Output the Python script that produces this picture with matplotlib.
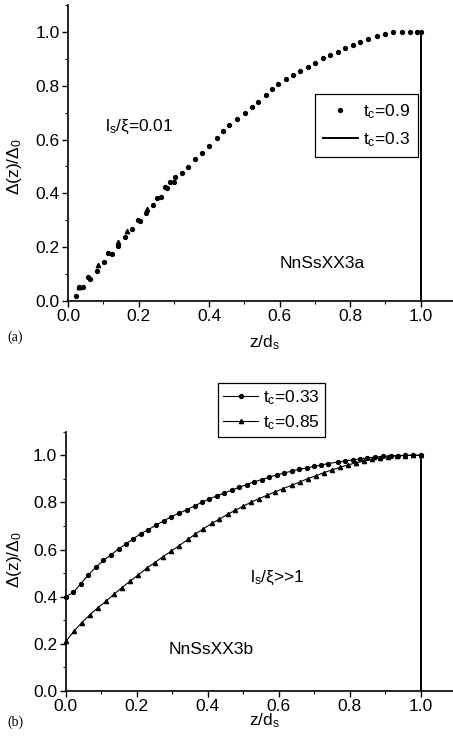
import matplotlib
matplotlib.use("Agg")
import matplotlib.pyplot as plt
from matplotlib.ticker import MultipleLocator, FormatStrFormatter

plt.rcParams['font.family'] = ['Liberation Sans', 'DejaVu Sans']
plt.rcParams['mathtext.fontset'] = 'custom'
plt.rcParams['mathtext.rm'] = 'Liberation Sans'
plt.rcParams['mathtext.it'] = 'Liberation Sans'
plt.rcParams['mathtext.bf'] = 'Liberation Sans:bold'

# ---- panel (a) data ----
a_dot_x = [0.022, 0.031, 0.042, 0.058, 0.062, 0.081, 0.103, 0.114, 0.124, 0.141, 0.162, 0.182,
           0.198, 0.203, 0.221, 0.242, 0.251, 0.263, 0.275, 0.281, 0.289, 0.300, 0.303, 0.322,
           0.341, 0.360, 0.379, 0.401, 0.422, 0.440, 0.457, 0.478, 0.502, 0.521, 0.540, 0.561,
           0.578, 0.596, 0.618, 0.639, 0.658, 0.681, 0.700, 0.724, 0.743, 0.766, 0.785, 0.809,
           0.828, 0.851, 0.875, 0.899, 0.922, 0.946, 0.970, 0.989, 1.0]
a_dot_y = [0.020, 0.051, 0.051, 0.090, 0.083, 0.113, 0.144, 0.177, 0.176, 0.206, 0.237, 0.268,
           0.301, 0.297, 0.328, 0.357, 0.382, 0.386, 0.423, 0.419, 0.444, 0.444, 0.460, 0.475,
           0.499, 0.528, 0.551, 0.577, 0.605, 0.633, 0.654, 0.675, 0.698, 0.722, 0.741, 0.766,
           0.788, 0.807, 0.824, 0.840, 0.856, 0.871, 0.886, 0.902, 0.914, 0.927, 0.939, 0.952,
           0.962, 0.974, 0.983, 0.991, 0.999, 1.0, 1.0, 1.0, 1.0]
a_tri_x = [0.031, 0.085, 0.141, 0.167, 0.224]
a_tri_y = [0.051, 0.135, 0.218, 0.261, 0.343]
a_line_x = [1.0, 1.0]
a_line_y = [1.0, 0.0]

# ---- panel (b) data ----
b_c_x = [0, 0.021, 0.043, 0.064, 0.085, 0.106, 0.128, 0.149, 0.170, 0.190, 0.212, 0.233, 0.254,
         0.276, 0.297, 0.319, 0.341, 0.363, 0.384, 0.405, 0.426, 0.447, 0.468, 0.489, 0.510,
         0.530, 0.552, 0.574, 0.594, 0.616, 0.637, 0.658, 0.679, 0.70, 0.72, 0.74, 0.766, 0.787,
         0.81, 0.83, 0.85, 0.87, 0.894, 0.915, 0.936, 0.957, 0.979, 1.0]
b_c_y = [0.40, 0.418, 0.456, 0.493, 0.525, 0.554, 0.578, 0.603, 0.624, 0.645, 0.668, 0.685,
         0.703, 0.722, 0.739, 0.754, 0.769, 0.785, 0.801, 0.815, 0.828, 0.840, 0.852, 0.864,
         0.876, 0.887, 0.897, 0.907, 0.917, 0.925, 0.933, 0.941, 0.946, 0.953, 0.959, 0.965,
         0.971, 0.976, 0.981, 0.985, 0.989, 0.992, 0.995, 0.997, 0.999, 1.0, 1.0, 1.0]
b_t_x = [0, 0.023, 0.045, 0.068, 0.090, 0.114, 0.136, 0.159, 0.181, 0.205, 0.228, 0.251, 0.273,
         0.297, 0.320, 0.344, 0.364, 0.388, 0.411, 0.433, 0.456, 0.478, 0.500, 0.522, 0.545,
         0.568, 0.590, 0.613, 0.637, 0.660, 0.682, 0.705, 0.727, 0.75, 0.773, 0.795, 0.818,
         0.841, 0.864, 0.886, 0.909, 0.932, 0.955, 0.977, 1.0]
b_t_y = [0.21, 0.253, 0.290, 0.323, 0.353, 0.381, 0.411, 0.439, 0.466, 0.493, 0.521, 0.545,
         0.569, 0.593, 0.617, 0.643, 0.665, 0.688, 0.711, 0.729, 0.750, 0.767, 0.784, 0.801,
         0.816, 0.831, 0.845, 0.859, 0.873, 0.887, 0.901, 0.913, 0.926, 0.938, 0.949, 0.959,
         0.968, 0.976, 0.983, 0.989, 0.994, 0.997, 0.999, 1.0, 1.0]
b_line_x = [1.0, 1.0]
b_line_y = [1.0, 0.0]

W, H = 453, 741
fig = plt.figure(figsize=(W / 100, H / 100), dpi=100)

def px_axes(l, r, t, b):
    return fig.add_axes([l / W, 1 - b / H, (r - l) / W, (b - t) / H])

FS = 12.5

def style(ax):
    ax.set_xlim(0, 1.09)
    ax.set_ylim(0, 1.10)
    for s in ['top', 'right']:
        ax.spines[s].set_visible(False)
    for s in ['left', 'bottom']:
        ax.spines[s].set_linewidth(1.2)
    ax.xaxis.set_major_locator(MultipleLocator(0.2))
    ax.xaxis.set_minor_locator(MultipleLocator(0.1))
    ax.yaxis.set_major_locator(MultipleLocator(0.2))
    ax.yaxis.set_minor_locator(MultipleLocator(0.1))
    ax.xaxis.set_major_formatter(FormatStrFormatter('%.1f'))
    ax.yaxis.set_major_formatter(FormatStrFormatter('%.1f'))
    ax.tick_params(which='major', direction='out', length=4, width=1.0, labelsize=FS, pad=2)
    ax.tick_params(which='minor', direction='out', length=2.5, width=0.8)

# ---- panel (a) ----
ax1 = px_axes(68, 452.5, 5, 301)
style(ax1)
ax1.plot(a_dot_x, a_dot_y, 'o', color='black', markersize=2.8, label=r'$\mathrm{t_c}$=0.9', clip_on=False)
ax1.plot(a_tri_x, a_tri_y, '^', color='black', markersize=3.2, clip_on=False)
ax1.plot(a_line_x, a_line_y, '-', color='black', linewidth=1.4, label=r'$\mathrm{t_c}$=0.3')
ax1.text(0.105, 0.647, r'l$_\mathrm{s}$/ξ=0.01', fontsize=FS, va='center', ha='left')
ax1.text(0.60, 0.14, 'NnSsXX3a', fontsize=FS, va='center', ha='left')
leg1 = ax1.legend(loc='upper left', bbox_to_anchor=((315) / W, 1 - 94 / H),
                  bbox_transform=fig.transFigure, fontsize=FS, frameon=True, fancybox=False,
                  edgecolor='black', handlelength=2.0, borderpad=0.45, labelspacing=0.55,
                  handletextpad=0.3, borderaxespad=0, framealpha=1)
leg1.get_frame().set_linewidth(0.9)

# ---- panel (b) ----
ax2 = px_axes(65.7, 452.7, 431.7, 691)
style(ax2)
ax2.plot(b_c_x, b_c_y, '-o', color='black', markersize=2.8, linewidth=0.8, label=r'$\mathrm{t_c}$=0.33', clip_on=False)
ax2.plot(b_t_x, b_t_y, '-^', color='black', markersize=3.0, linewidth=0.8, label=r'$\mathrm{t_c}$=0.85', clip_on=False)
ax2.plot(b_line_x, b_line_y, '-', color='black', linewidth=1.4)
ax2.text(0.52, 0.48, r'l$_\mathrm{s}$/ξ>>1', fontsize=FS, va='center', ha='left')
ax2.text(0.29, 0.174, 'NnSsXX3b', fontsize=FS, va='center', ha='left')
leg2 = ax2.legend(loc='upper left', bbox_to_anchor=(218 / W, 1 - 383 / H),
                  bbox_transform=fig.transFigure, fontsize=FS, frameon=True, fancybox=False,
                  edgecolor='black', handlelength=2.0, borderpad=0.3, labelspacing=0.35,
                  handletextpad=0.3, borderaxespad=0, framealpha=1)
leg2.get_frame().set_linewidth(0.9)

# axis labels as figure text
ylab = r'$\Delta$(z)/$\Delta_0$'
xlab = r'z/d$_\mathrm{s}$'
fig.text(14 / W, 1 - 167 / H, ylab, rotation=90, fontsize=FS, ha='center', va='center')
fig.text(14 / W, 1 - 560 / H, ylab, rotation=90, fontsize=FS, ha='center', va='center')
fig.text(264 / W, 1 - 343 / H, xlab, fontsize=FS, ha='center', va='center')
fig.text(264 / W, 1 - 721 / H, xlab, fontsize=FS, ha='center', va='center')
fig.text(15 / W, 1 - 337 / H, '(a)', fontsize=10, family='Liberation Serif', ha='center', va='center')
fig.text(15 / W, 1 - 722 / H, '(b)', fontsize=10, family='Liberation Serif', ha='center', va='center')

fig.savefig('out.png', dpi=100)
